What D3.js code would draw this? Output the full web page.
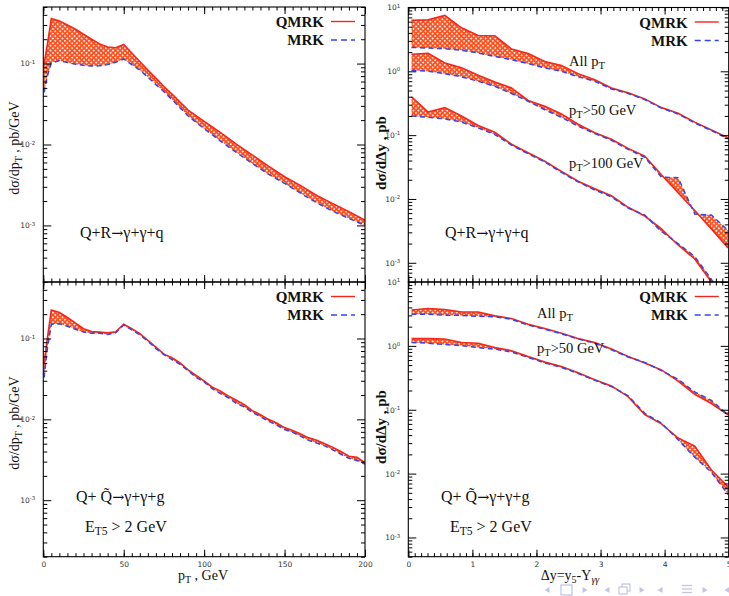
<!DOCTYPE html>
<html>
<head>
<meta charset="utf-8">
<script src="https://cdnjs.cloudflare.com/ajax/libs/d3/7.8.5/d3.min.js"></script>
<style>
body { margin: 0; background: #fff; }
svg { display: block; }
.tick text { font-family: "DejaVu Sans", sans-serif; font-size: 7.5px; fill: #333; }
.serif { font-family: "Liberation Serif", "Times New Roman", serif; fill: #111; }
</style>
</head>
<body>
<svg id="chart" width="729" height="596"></svg>
<script>
// ---- data ----
// Q+R -> gamma+gamma+q, d sigma / d pT
var qrPt = [0.5, 2.5, 5, 10, 15, 20, 25, 30, 35, 40, 45, 50, 55, 60, 65, 70, 75, 80, 90, 100,
    110, 120, 130, 140, 150, 160, 170, 180, 190, 200];
var qrPtQmrk = [0.1, 0.17, 0.36, 0.335, 0.30, 0.265, 0.23, 0.20, 0.175, 0.16, 0.157, 0.172, 0.135, 0.106,
    0.083, 0.066, 0.052, 0.042, 0.0266, 0.0193, 0.0141, 0.0101, 0.0074, 0.0054, 0.0040, 0.0031,
    0.00234, 0.00186, 0.00148, 0.00116];
var qrPtMrk = [0.044, 0.07, 0.102, 0.108, 0.103, 0.098, 0.095, 0.093, 0.094, 0.097, 0.104, 0.114, 0.097,
    0.083, 0.068, 0.055, 0.045, 0.036, 0.0225, 0.0157, 0.0111, 0.0080, 0.0058, 0.0043, 0.0033,
    0.0025, 0.0019, 0.0015, 0.00122, 0.00100];

// Q+Qbar -> gamma+gamma+g, d sigma / d pT
var qqPt = [0.5, 2.5, 5, 10, 15, 20, 25, 30, 35, 40, 45, 50, 55, 60, 65, 70, 75, 80, 85, 90, 95, 100,
    105, 110, 115, 120, 125, 130, 135, 140, 145, 150, 155, 160, 165, 170, 175, 180, 185, 190, 195, 200];
var qqPtQmrk = [0.05, 0.1, 0.225, 0.21, 0.182, 0.155, 0.132, 0.122, 0.12, 0.118, 0.121, 0.15, 0.132,
    0.115, 0.095, 0.078, 0.064, 0.058, 0.05, 0.041, 0.035, 0.030, 0.025, 0.0225, 0.0195, 0.0172,
    0.0152, 0.0128, 0.0114, 0.0100, 0.0090, 0.0079, 0.0073, 0.0066, 0.0059, 0.0055, 0.0050, 0.0045,
    0.0040, 0.0035, 0.0034, 0.0029];
var qqPtMrk = [0.033, 0.075, 0.15, 0.152, 0.142, 0.13, 0.12, 0.116, 0.116, 0.112, 0.118, 0.147, 0.128,
    0.111, 0.093, 0.075, 0.063, 0.055, 0.048, 0.040, 0.033, 0.029, 0.024, 0.021, 0.0185, 0.0158,
    0.0142, 0.0122, 0.0108, 0.0095, 0.0085, 0.0075, 0.0069, 0.0062, 0.0055, 0.0051, 0.0047, 0.0042,
    0.0037, 0.0033, 0.0031, 0.0028];

// rapidity difference nodes (both right panels)
var dyValues = [0.05, 0.31, 0.57, 0.83, 1.09, 1.35, 1.61, 1.87, 2.13, 2.39, 2.65, 2.91, 3.17, 3.43,
    3.69, 3.95, 4.21, 4.47, 4.73, 4.99];

var qrDyAllQmrk = [6.3, 6.4, 7.5, 4.8, 3.65, 3.6, 2.24, 1.9, 1.43, 1.23, 0.92, 0.74, 0.55, 0.46, 0.37,
    0.27, 0.22, 0.16, 0.12, 0.091];
var qrDyAllMrk = [2.37, 2.32, 2.26, 2.13, 1.94, 1.71, 1.52, 1.32, 1.13, 1.0, 0.82, 0.70, 0.53, 0.45,
    0.36, 0.265, 0.215, 0.155, 0.118, 0.088];
var qrDy50Qmrk = [1.85, 1.92, 1.35, 1.14, 0.87, 0.68, 0.55, 0.35, 0.284, 0.215, 0.148, 0.109, 0.086,
    0.062, 0.047, 0.024, 0.0125, 0.0066, 0.0034, 0.0017];
var qrDy50Mrk = [1.04, 1.0, 0.92, 0.82, 0.70, 0.58, 0.45, 0.34, 0.25, 0.19, 0.138, 0.106, 0.083,
    0.060, 0.045, 0.022, 0.0215, 0.0058, 0.0056, 0.0032];
var qrDy100Qmrk = [0.40, 0.23, 0.27, 0.20, 0.142, 0.111, 0.072, 0.053, 0.039, 0.027, 0.019, 0.0145,
    0.0112, 0.0074, 0.0054, 0.0034, 0.0019, 0.00115, 0.00050, 0.0002];
var qrDy100Mrk = [0.20, 0.19, 0.18, 0.16, 0.13, 0.102, 0.070, 0.051, 0.038, 0.026, 0.0185, 0.0138,
    0.0108, 0.0072, 0.0056, 0.0031, 0.0020, 0.00125, 0.00055, 0.0002];

var qqDyAllQmrk = [3.65, 3.84, 3.7, 3.39, 3.39, 2.95, 2.68, 2.18, 1.87, 1.58, 1.30, 1.13, 0.89, 0.68,
    0.54, 0.42, 0.28, 0.175, 0.125, 0.083];
var qqDyAllMrk = [3.13, 3.13, 3.02, 3.0, 2.9, 2.85, 2.6, 2.12, 1.82, 1.55, 1.28, 1.1, 0.87, 0.67,
    0.55, 0.41, 0.30, 0.19, 0.14, 0.083];
var qqDy50Qmrk = [1.30, 1.30, 1.28, 1.13, 1.1, 0.94, 0.84, 0.68, 0.56, 0.475, 0.38, 0.295, 0.236,
    0.16, 0.084, 0.06, 0.036, 0.027, 0.0114, 0.0062];
var qqDy50Mrk = [1.13, 1.1, 1.05, 1.01, 0.94, 0.89, 0.80, 0.66, 0.54, 0.46, 0.37, 0.29, 0.23, 0.165,
    0.088, 0.062, 0.034, 0.018, 0.0105, 0.0047];

// tick labels
var ptTicks = [0, 50, 100, 150, 200];
var dyTicks = [0, 1, 2, 3, 4, 5];
var ptDecades = [1e-3, 1e-2, 1e-1];
var dyDecades = [1e-3, 1e-2, 1e-1, 1, 10];

var red = "#f5261a";
var blue = "#3344ee";

var svg = d3.select("#chart");
var defs = svg.append("defs");

// orange cross hatch between the two curves
var hatch = defs.append("pattern")
    .attr("id", "hatch")
    .attr("patternUnits", "userSpaceOnUse")
    .attr("width", 3.4)
    .attr("height", 3.4)
    .attr("patternTransform", "rotate(45)");
hatch.append("rect").attr("width", 3.4).attr("height", 3.4).attr("fill", "#fff");
hatch.append("path")
    .attr("d", "M0,1.7H3.4M1.7,0V3.4")
    .attr("stroke", "#ff5220")
    .attr("stroke-width", 1.9);

function logMinor(domain) {
    var out = [];
    for (var e = -5; e <= 2; e++) {
        for (var k = 2; k <= 9; k++) {
            var v = k * Math.pow(10, e);
            if (v >= domain[0] * 0.999 && v <= domain[1] * 1.001) out.push(v);
        }
    }
    return out;
}

function supLabels(sel) {
    sel.selectAll(".tick text").each(function(d) {
        var t = d3.select(this);
        var e = Math.round(Math.log10(d));
        t.text("10");
        t.append("tspan").attr("dy", "-0.5em").style("font-size", "5.5px").text(e);
    });
}

// the reaction text with a wide arrow
function reaction(t, before, after) {
    t.append("tspan").text(before);
    t.append("tspan").style("font-family", "'DejaVu Serif', serif").style("font-size", "0.9em")
        .text("\u2192");
    t.append("tspan").text(after);
}

function drawPanel(p, idx) {
    var g = svg.append("g");
    var x = d3.scaleLinear().domain(p.xDomain).range([p.left, p.right]);
    var y = d3.scaleLog().domain(p.yDomain).range([p.bottom, p.top]);

    defs.append("clipPath").attr("id", "clip" + idx)
        .append("rect")
        .attr("x", p.left).attr("y", p.top)
        .attr("width", p.right - p.left).attr("height", p.bottom - p.top);

    var plot = g.append("g").attr("clip-path", "url(#clip" + idx + ")");

    p.series.forEach(function(s) {
        var pts = s.x.map(function(v, i) { return {x: v, q: s.q[i], m: s.m[i]}; });

        plot.append("path")
            .datum(pts)
            .attr("fill", "url(#hatch)")
            .attr("d", d3.area()
                .x(function(d) { return x(d.x); })
                .y0(function(d) { return y(d.m); })
                .y1(function(d) { return y(d.q); }));

        plot.append("path")
            .datum(pts)
            .attr("fill", "none")
            .attr("stroke", red)
            .attr("stroke-width", 1.6)
            .attr("d", d3.line()
                .x(function(d) { return x(d.x); })
                .y(function(d) { return y(d.q); }));

        plot.append("path")
            .datum(pts)
            .attr("fill", "none")
            .attr("stroke", blue)
            .attr("stroke-width", 1.5)
            .attr("stroke-dasharray", "5,3.5")
            .attr("d", d3.line()
                .x(function(d) { return x(d.x); })
                .y(function(d) { return y(d.m); }));
    });

    // frame
    g.append("rect")
        .attr("x", p.left).attr("y", p.top)
        .attr("width", p.right - p.left).attr("height", p.bottom - p.top)
        .attr("fill", "none").attr("stroke", "#000").attr("stroke-width", 1.1);

    var yMinor = logMinor(p.yDomain);

    // bottom
    g.append("g").attr("transform", "translate(0," + p.bottom + ")")
        .call(d3.axisBottom(x).tickValues(p.xMinor).tickSize(-3.5).tickFormat(""));
    g.append("g").attr("transform", "translate(0," + p.bottom + ")")
        .call(d3.axisBottom(x).tickValues(p.xMajor).tickSize(-7).tickPadding(5)
            .tickFormat(p.xLabels ? d3.format("d") : ""));
    // top
    g.append("g").attr("transform", "translate(0," + p.top + ")")
        .call(d3.axisTop(x).tickValues(p.xMinor).tickSize(-3.5).tickFormat(""));
    g.append("g").attr("transform", "translate(0," + p.top + ")")
        .call(d3.axisTop(x).tickValues(p.xMajor).tickSize(-7).tickFormat(""));
    // left
    g.append("g").attr("transform", "translate(" + p.left + ",0)")
        .call(d3.axisLeft(y).tickValues(yMinor).tickSize(-4).tickFormat(""));
    var ly = g.append("g").attr("transform", "translate(" + p.left + ",0)")
        .call(d3.axisLeft(y).tickValues(p.yMajor).tickSize(-8).tickPadding(8));
    supLabels(ly);
    // right
    g.append("g").attr("transform", "translate(" + p.right + ",0)")
        .call(d3.axisRight(y).tickValues(yMinor).tickSize(-4).tickFormat(""));
    g.append("g").attr("transform", "translate(" + p.right + ",0)")
        .call(d3.axisRight(y).tickValues(p.yMajor).tickSize(-8).tickFormat(""));

    g.selectAll(".domain").remove();
    g.selectAll(".tick line").attr("stroke", "#000").attr("stroke-width", 1);

    // legend
    var lx = p.right - 41;
    g.append("text").attr("class", "serif")
        .attr("x", lx).attr("y", p.top + 20)
        .attr("text-anchor", "end")
        .style("font-size", "15px").style("font-weight", "bold")
        .text("QMRK");
    g.append("line")
        .attr("x1", p.right - 34).attr("x2", p.right - 10)
        .attr("y1", p.top + 14.5).attr("y2", p.top + 14.5)
        .attr("stroke", red).attr("stroke-width", 1.4);
    g.append("text").attr("class", "serif")
        .attr("x", lx).attr("y", p.top + 38)
        .attr("text-anchor", "end")
        .style("font-size", "15px").style("font-weight", "bold")
        .text("MRK");
    g.append("line")
        .attr("x1", p.right - 34).attr("x2", p.right - 10)
        .attr("y1", p.top + 33).attr("y2", p.top + 33)
        .attr("stroke", blue).attr("stroke-width", 1.4)
        .attr("stroke-dasharray", "6,4");

    // y title
    var yt = g.append("text").attr("class", "serif")
        .attr("transform", "translate(" + p.yTitle[0] + "," + p.yTitle[1] + ") rotate(-90)")
        .attr("text-anchor", "middle")
        .style("font-size", p.yBold ? "15px" : "14px")
        .style("font-weight", p.yBold ? "bold" : "normal");
    if (p.yBold) {
        yt.text("d\u03c3/d\u0394y , pb");
    } else {
        yt.append("tspan").text("d\u03c3/dp");
        yt.append("tspan").attr("dy", 3).style("font-size", "10px").text("T");
        yt.append("tspan").attr("dy", -3).text(" , pb/GeV");
    }

    // annotations
    p.notes.forEach(function(n) {
        var t = g.append("text").attr("class", "serif")
            .attr("x", n.x).attr("y", n.y)
            .style("font-size", n.size + "px");
        if (n.reaction) {
            reaction(t, n.reaction[0], n.reaction[1]);
            return;
        }
        n.parts.forEach(function(part) {
            var ts = t.append("tspan").text(part[0]);
            if (part[1] === "sub") ts.attr("dy", 3).style("font-size", (n.size * 0.72) + "px");
            if (part[1] === "up") ts.attr("dy", -3);
        });
    });
}

var notesQR = [{x: 80, y: 238, size: 16, reaction: ["Q+R", "\u03b3+\u03b3+q"]}];
var notesQQ = [
    {x: 76, y: 502, size: 16, reaction: ["Q+ Q\u0303", "\u03b3+\u03b3+g"]},
    {x: 85, y: 532, size: 16, parts: [["E"], ["T5", "sub"], [" > 2 GeV", "up"]]}
];

var panels = [
    {left: 43.3, right: 365, top: 7, bottom: 282, xDomain: [0, 200], yDomain: [2e-4, 0.5],
        xMajor: ptTicks, xMinor: d3.range(0, 200.01, 5), yMajor: ptDecades, xLabels: false,
        yTitle: [18.5, 148], yBold: false,
        series: [{x: qrPt, q: qrPtQmrk, m: qrPtMrk}],
        notes: notesQR},
    {left: 408.3, right: 728.7, top: 7.5, bottom: 282, xDomain: [0, 5], yDomain: [5e-4, 10],
        xMajor: dyTicks, xMinor: d3.range(0, 5.001, 0.1), yMajor: dyDecades, xLabels: false,
        yTitle: [386, 153], yBold: true,
        series: [{x: dyValues, q: qrDyAllQmrk, m: qrDyAllMrk},
            {x: dyValues, q: qrDy50Qmrk, m: qrDy50Mrk},
            {x: dyValues, q: qrDy100Qmrk, m: qrDy100Mrk}],
        notes: [
            {x: 569, y: 66, size: 14.5, parts: [["All p"], ["T", "sub"]]},
            {x: 569, y: 115, size: 14.5, parts: [["p"], ["T", "sub"], [">50 GeV", "up"]]},
            {x: 569, y: 168, size: 14.5, parts: [["p"], ["T", "sub"], [">100 GeV", "up"]]},
            {x: 445, y: 238, size: 16, reaction: ["Q+R", "\u03b3+\u03b3+q"]}
        ]},
    {left: 43.3, right: 365, top: 282, bottom: 556.7, xDomain: [0, 200], yDomain: [2e-4, 0.5],
        xMajor: ptTicks, xMinor: d3.range(0, 200.01, 5), yMajor: ptDecades, xLabels: true,
        yTitle: [18.5, 423], yBold: false,
        series: [{x: qqPt, q: qqPtQmrk, m: qqPtMrk}],
        notes: notesQQ},
    {left: 408.3, right: 728.7, top: 282, bottom: 556.7, xDomain: [0, 5], yDomain: [5e-4, 10],
        xMajor: dyTicks, xMinor: d3.range(0, 5.001, 0.1), yMajor: dyDecades, xLabels: true,
        yTitle: [386, 427], yBold: true,
        series: [{x: dyValues, q: qqDyAllQmrk, m: qqDyAllMrk},
            {x: dyValues, q: qqDy50Qmrk, m: qqDy50Mrk}],
        notes: [
            {x: 537, y: 318, size: 14.5, parts: [["All p"], ["T", "sub"]]},
            {x: 537, y: 353, size: 14.5, parts: [["p"], ["T", "sub"], [">50 GeV", "up"]]},
            {x: 441, y: 502, size: 16, reaction: ["Q+ Q\u0303", "\u03b3+\u03b3+g"]},
            {x: 450, y: 532, size: 16, parts: [["E"], ["T5", "sub"], [" > 2 GeV", "up"]]}
        ]}
];

panels.forEach(drawPanel);

// x titles
var xt1 = svg.append("text").attr("class", "serif")
    .attr("x", 203).attr("y", 580).attr("text-anchor", "middle").style("font-size", "14px");
xt1.append("tspan").text("p");
xt1.append("tspan").attr("dy", 3).style("font-size", "10px").text("T");
xt1.append("tspan").attr("dy", -3).text(" , GeV");

var xt2 = svg.append("text").attr("class", "serif")
    .attr("x", 570).attr("y", 580).attr("text-anchor", "middle").style("font-size", "14px");
xt2.append("tspan").text("\u0394y=y");
xt2.append("tspan").attr("dy", 3).style("font-size", "10px").text("5");
xt2.append("tspan").attr("dy", -3).text("-Y");
xt2.append("tspan").attr("dy", 3).style("font-size", "10px").style("font-style", "italic").text("\u03b3\u03b3");

// beamer navigation symbols, bottom right
var navColor = "#c4c4e6";
var nav = svg.append("g").attr("fill", navColor).attr("stroke", navColor);
function triangle(cx, dir) {
    nav.append("path")
        .attr("d", "M" + (cx - 2.5 * dir) + ",590L" + (cx + 2.5 * dir) + ",587L" + (cx + 2.5 * dir) + ",593Z")
        .attr("stroke", "none");
}
triangle(547, 1);
nav.append("rect").attr("x", 561).attr("y", 585).attr("width", 11).attr("height", 10)
    .attr("fill", "#fff").attr("stroke-width", 1.3);
triangle(585, -1);
triangle(607, 1);
nav.append("rect").attr("x", 622).attr("y", 584).attr("width", 8).attr("height", 7)
    .attr("fill", "#fff").attr("stroke-width", 1.2);
nav.append("rect").attr("x", 619).attr("y", 587).attr("width", 8).attr("height", 7)
    .attr("fill", "#fff").attr("stroke-width", 1.2);
triangle(642, -1);
triangle(660, 1);
[585.5, 589, 592.5].forEach(function(yy) {
    nav.append("line").attr("x1", 682).attr("x2", 692).attr("y1", yy).attr("y2", yy).attr("stroke-width", 1.3);
});
triangle(705, -1);
triangle(727, 1);
</script>
</body>
</html>
